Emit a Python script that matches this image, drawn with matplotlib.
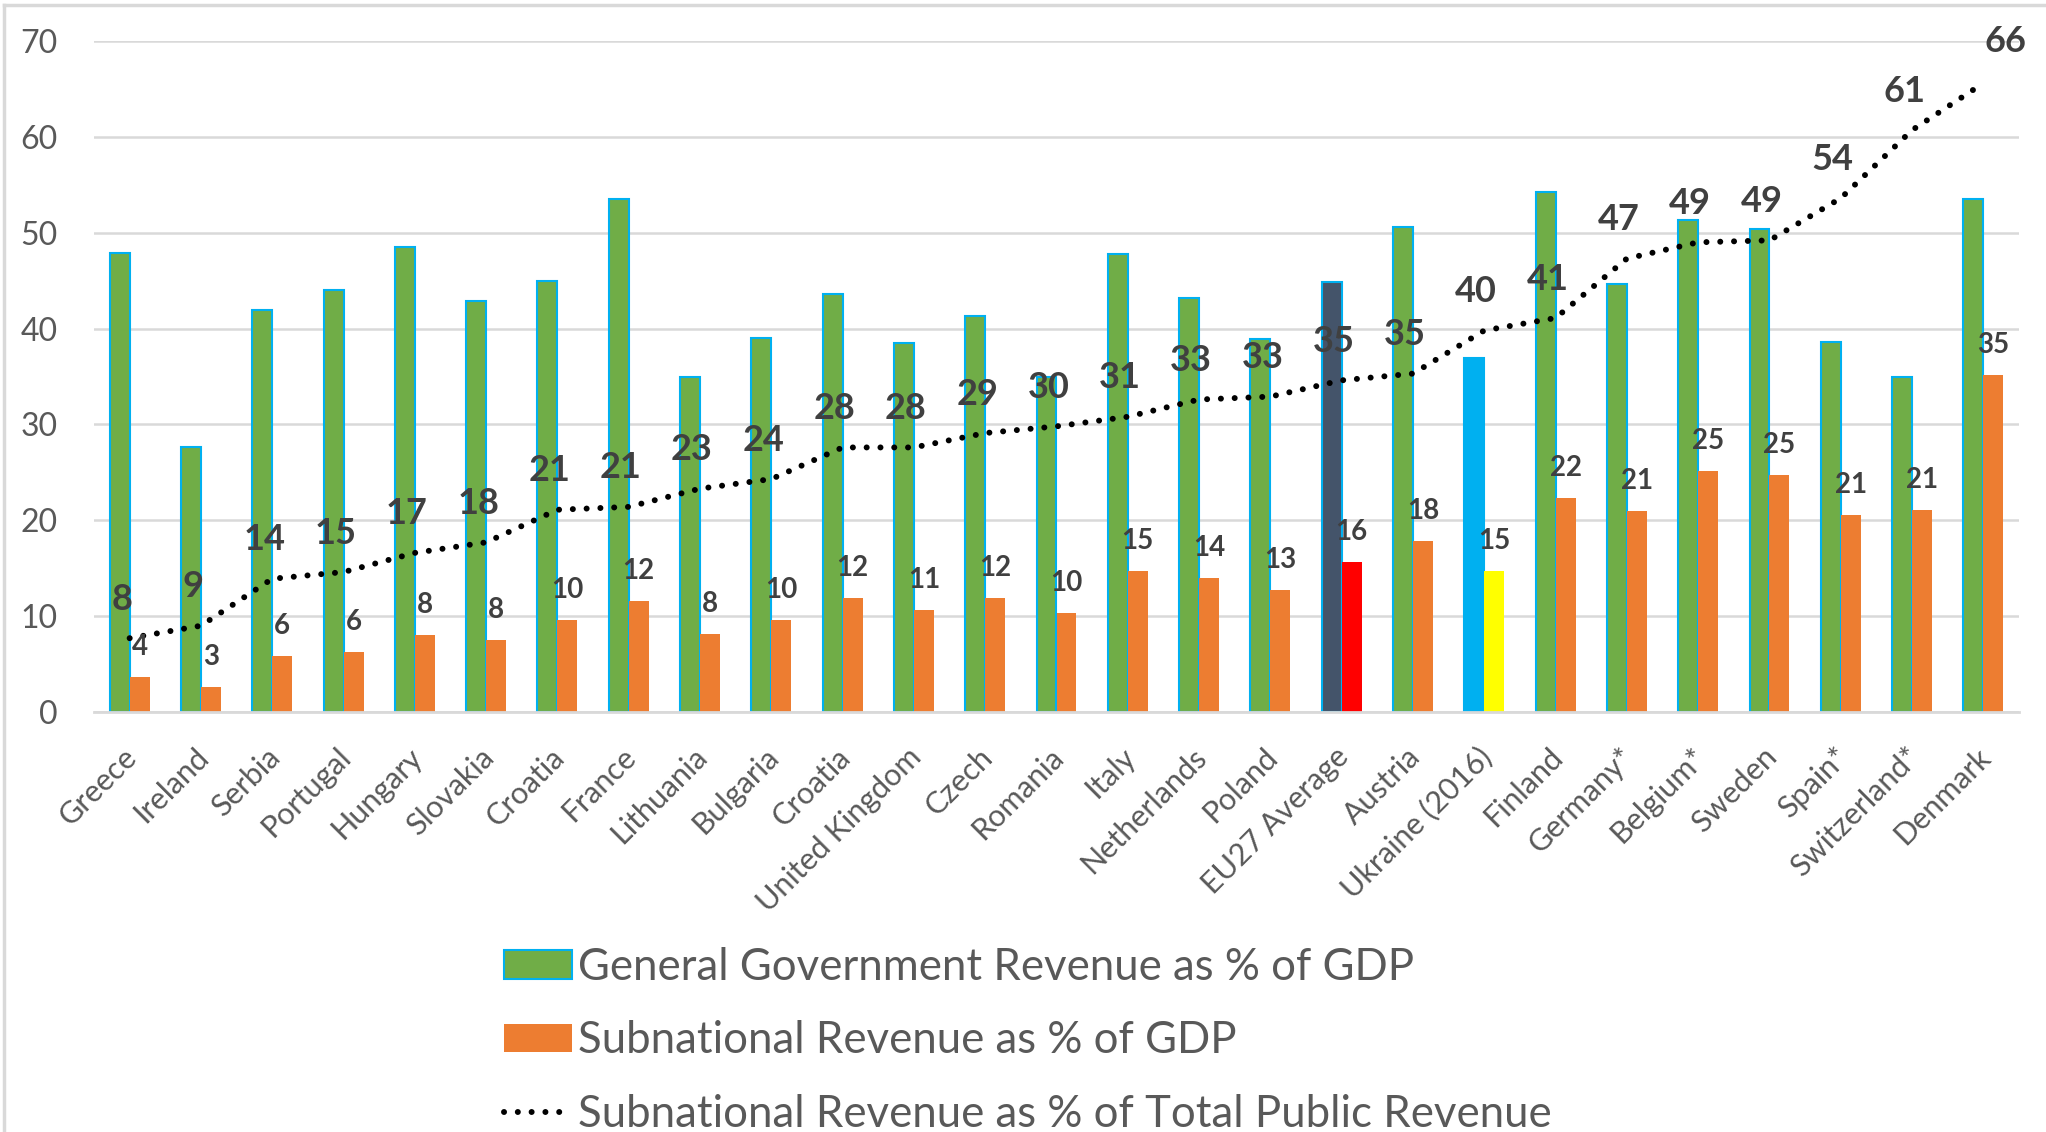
import numpy as np
import matplotlib
matplotlib.use('Agg')
import matplotlib.pyplot as plt
from matplotlib.patches import Patch
from matplotlib.lines import Line2D
from matplotlib.transforms import ScaledTranslation

plt.rcParams['font.family'] = ['Lato', 'DejaVu Sans']

# data
countries = ['Greece', 'Ireland', 'Serbia', 'Portugal', 'Hungary', 'Slovakia',
             'Croatia', 'France', 'Lithuania', 'Bulgaria', 'Croatia',
             'United Kingdom', 'Czech', 'Romania', 'Italy', 'Netherlands',
             'Poland', 'EU27 Average', 'Austria', 'Ukraine (2016)', 'Finland',
             'Germany*', 'Belgium*', 'Sweden', 'Spain*', 'Switzerland*', 'Denmark']

gg_revenue = [47.9, 27.6, 41.9, 44.0, 48.5, 42.9, 45.0, 53.5, 34.9, 39.0,
              43.6, 38.5, 41.3, 34.9, 47.8, 43.2, 38.9, 44.9, 50.6, 36.9,
              54.2, 44.7, 51.3, 50.4, 38.6, 35.0, 53.5]

sub_revenue = [3.6, 2.6, 5.8, 6.3, 8.0, 7.5, 9.6, 11.6, 8.1, 9.6,
               11.9, 10.6, 11.9, 10.3, 14.7, 14.0, 12.7, 15.6, 17.8, 14.7,
               22.3, 21.0, 25.1, 24.7, 20.6, 21.1, 35.2]

sub_share = [7.7, 9.0, 13.9, 14.6, 16.6, 17.7, 21.1, 21.4, 23.3, 24.3,
             27.6, 27.6, 29.1, 29.8, 30.8, 32.6, 32.9, 34.6, 35.3, 39.8,
             41.1, 47.3, 49.0, 49.2, 53.6, 60.7, 65.6]

legend_labels = ['General Government Revenue as % of GDP',
                 'Subnational Revenue as % of GDP',
                 'Subnational Revenue as % of Total Public Revenue']

GREEN = '#70AD47'
ORANGE = '#ED7D31'
CYAN = '#00B0F0'
GRID = '#D9D9D9'
TXT = '#595959'
LBL = '#404040'

x = np.arange(len(countries))
w = 0.28

gg_colors = [GREEN] * len(countries)
sub_colors = [ORANGE] * len(countries)
gg_colors[countries.index('EU27 Average')] = '#44546A'
sub_colors[countries.index('EU27 Average')] = '#FF0000'
gg_colors[countries.index('Ukraine (2016)')] = CYAN
sub_colors[countries.index('Ukraine (2016)')] = '#FFFF00'

fig = plt.figure(figsize=(20.46, 11.32), dpi=100)
ax = fig.add_axes([94 / 2046, 1 - 712 / 1132, 1925 / 2046, 671 / 1132])

ax.bar(x - w / 2, gg_revenue, w, color=gg_colors, edgecolor=CYAN, linewidth=1.5, zorder=2)
ax.bar(x + w / 2, sub_revenue, w, color=sub_colors, linewidth=0, zorder=2)

dots = (0, (0.01, 2.3))
ax.plot(x, sub_share, color='black', linewidth=4.3, linestyle=dots,
        dash_capstyle='round', zorder=3)

# labels
for i in range(len(countries)):
    ax.annotate(f'{sub_revenue[i]:.0f}', (x[i] + w / 2, sub_revenue[i]),
                xytext=(0, 30), textcoords='offset pixels', ha='center', va='center',
                fontsize=20, fontweight='bold', color=LBL, zorder=4)
    off = (22, 42) if i == len(countries) - 1 else (-8, 39)
    ax.annotate(f'{sub_share[i]:.0f}', (x[i], sub_share[i]),
                xytext=off, textcoords='offset pixels', ha='center', va='center',
                fontsize=26, fontweight='bold', color=LBL, zorder=4)

ax.set_xlim(-0.5, len(countries) - 0.5)
ax.set_ylim(0, 70)
ax.set_yticks(range(0, 71, 10))
ax.yaxis.grid(True, color=GRID, linewidth=1.8, zorder=0)
ax.set_axisbelow(True)
for s in ['top', 'right', 'left']:
    ax.spines[s].set_visible(False)
ax.spines['bottom'].set_color(GRID)
ax.spines['bottom'].set_linewidth(2)

ax.tick_params(axis='y', length=0, pad=26, labelsize=23, labelcolor=TXT)
ax.tick_params(axis='x', length=0, pad=22, labelsize=22, labelcolor=TXT)
ax.set_xticks(x)
ax.set_xticklabels(countries, rotation=45, ha='right', rotation_mode='anchor')
shift = ScaledTranslation(-7 / 100, 0, fig.dpi_scale_trans)
for t in ax.get_xticklabels():
    t.set_transform(t.get_transform() + shift)

handles = [Patch(facecolor=GREEN, edgecolor=CYAN, linewidth=1.5),
           Patch(facecolor=ORANGE, edgecolor='none'),
           Line2D([], [], color='black', linewidth=4.3, linestyle=dots, dash_capstyle='round')]
fig.legend(handles, legend_labels, loc='upper left', bbox_to_anchor=(504 / 2046, 1 - 947 / 1132),
           frameon=False, fontsize=31.5, labelcolor=TXT, borderpad=0, borderaxespad=0,
           handlelength=1.55, handleheight=0.62, handletextpad=0.15, labelspacing=0.74)

# chart area border
fig.add_artist(Line2D([4 / 2046, 1], [1 - 5 / 1132, 1 - 5 / 1132], transform=fig.transFigure,
                      color=GRID, linewidth=2.5))
fig.add_artist(Line2D([4 / 2046, 4 / 2046], [0, 1 - 5 / 1132], transform=fig.transFigure,
                      color=GRID, linewidth=2.5))

fig.savefig('out.png', dpi=100)
